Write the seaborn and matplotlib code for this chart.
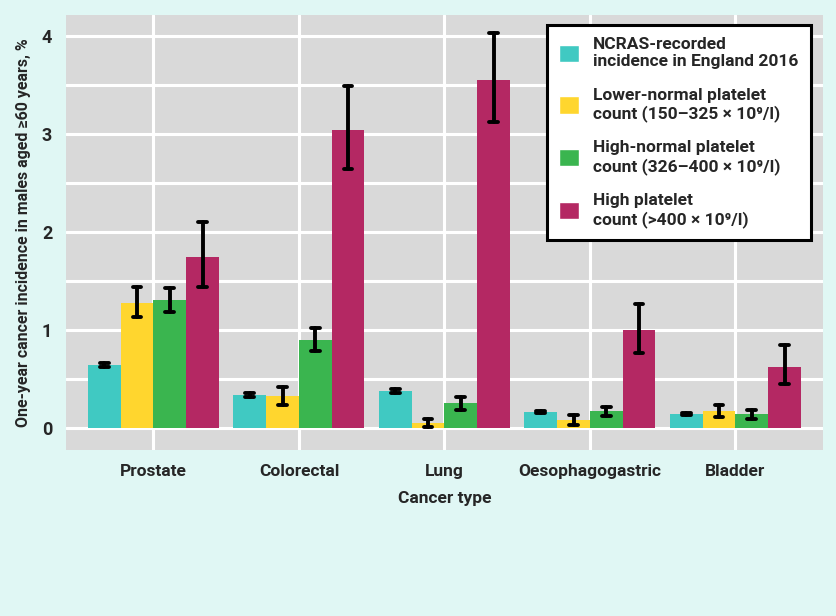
import numpy as np
import pandas as pd
import seaborn as sns
import matplotlib.pyplot as plt

# Data
cancer_types = ["Prostate", "Colorectal", "Lung", "Oesophagogastric", "Bladder"]
groups = [
    "NCRAS-recorded\nincidence in England 2016",
    "Lower-normal platelet\ncount (150\u2013325 \u00d7 10\u2079/l)",
    "High-normal platelet\ncount (326\u2013400 \u00d7 10\u2079/l)",
    "High platelet\ncount (>400 \u00d7 10\u2079/l)",
]
ncras = [0.64, 0.34, 0.38, 0.16, 0.14]
ncras_lo = [0.62, 0.32, 0.36, 0.15, 0.13]
ncras_hi = [0.66, 0.36, 0.40, 0.17, 0.15]
lower_normal = [1.28, 0.33, 0.05, 0.08, 0.17]
lower_normal_lo = [1.13, 0.24, 0.01, 0.03, 0.11]
lower_normal_hi = [1.44, 0.42, 0.09, 0.13, 0.24]
high_normal = [1.31, 0.90, 0.26, 0.17, 0.14]
high_normal_lo = [1.19, 0.79, 0.19, 0.12, 0.09]
high_normal_hi = [1.43, 1.02, 0.32, 0.22, 0.19]
high = [1.75, 3.04, 3.55, 1.00, 0.62]
high_lo = [1.44, 2.65, 3.13, 0.77, 0.45]
high_hi = [2.10, 3.49, 4.03, 1.27, 0.85]

colors = ["#40C9C2", "#FFD62E", "#3AB54F", "#B42863"]

values = [ncras, lower_normal, high_normal, high]
lows = [ncras_lo, lower_normal_lo, high_normal_lo, high_lo]
highs = [ncras_hi, lower_normal_hi, high_normal_hi, high_hi]

rows = []
for g, v, lo, hi in zip(groups, values, lows, highs):
    for c, val, l, h in zip(cancer_types, v, lo, hi):
        rows.append({"Cancer type": c, "group": g, "value": val, "lo": l, "hi": h})
df = pd.DataFrame(rows)

sns.set_style("darkgrid")
plt.rcParams["font.family"] = ["Roboto", "DejaVu Sans"]
plt.rcParams["font.weight"] = "bold"

fig = plt.figure(figsize=(8.37, 6.16), dpi=100, facecolor="#E0F7F4")
ax = fig.add_axes([0.079, 0.27, 0.904, 0.706])
ax.set_facecolor("#D9D9D9")

sns.barplot(data=df, x="Cancer type", y="value", hue="group", order=cancer_types,
            hue_order=groups, palette=colors, width=0.9, errorbar=None,
            saturation=1, ax=ax)

# error bars placed at each bar's centre
for gi, cont in enumerate(ax.containers):
    for bar, l, h in zip(cont, lows[gi], highs[gi]):
        bar.set_edgecolor("none")
        x = bar.get_x() + bar.get_width() / 2
        ax.plot([x, x], [l, h], color="black", lw=2.8, zorder=4)
        ax.plot([x - 0.03, x + 0.03], [l, l], color="black", lw=2.8, zorder=4)
        ax.plot([x - 0.03, x + 0.03], [h, h], color="black", lw=2.8, zorder=4)

ax.set_xlim(-0.6, 4.6)
ax.set_ylim(-0.22, 4.22)
ax.set_yticks([0, 1, 2, 3, 4])
ax.set_yticks([0.5, 1.5, 2.5, 3.5], minor=True)
ax.grid(True, which="major", color="white", lw=2.2)
ax.grid(True, which="minor", axis="y", color="white", lw=2.2)
ax.set_axisbelow(True)
for s in ax.spines.values():
    s.set_visible(False)
ax.tick_params(axis="both", which="major", length=4, width=1.2, color="#333333",
               labelsize=12.5, pad=6)
ax.tick_params(axis="y", which="minor", length=0)
ax.tick_params(axis="y", labelsize=13)
for t in ax.get_xticklabels() + ax.get_yticklabels():
    t.set_fontweight("bold")

ax.set_xlabel("Cancer type", fontsize=12.5, fontweight="bold", labelpad=9)
ax.set_ylabel("One-year cancer incidence in males aged \u226560 years, %",
              fontsize=11.5, fontweight="bold", labelpad=8)

leg = ax.legend(loc="upper right", bbox_to_anchor=(0.984, 0.977),
                borderaxespad=0, frameon=True,
                fancybox=False, edgecolor="black", facecolor="white",
                framealpha=1, prop={"size": 12.5, "weight": "bold"},
                handlelength=1.15, handleheight=1.15, labelspacing=1.05,
                borderpad=0.7, handletextpad=0.8)
leg.get_frame().set_linewidth(2.2)
leg.set_title(None)

fig.savefig("out.png", dpi=100, facecolor=fig.get_facecolor())
